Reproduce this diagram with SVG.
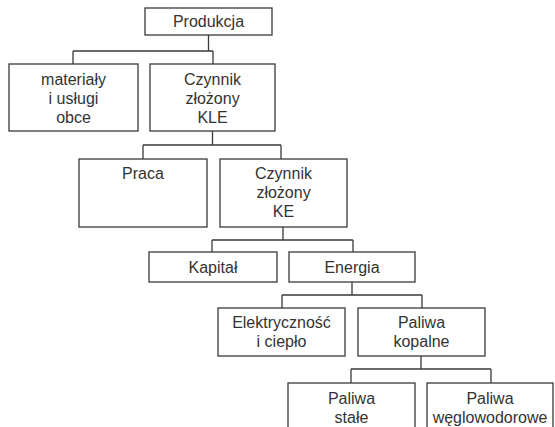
<svg xmlns="http://www.w3.org/2000/svg" width="555" height="427" viewBox="0 0 555 427">
<style>
rect.box{fill:#fff;stroke:#3a3a3a;stroke-width:1.3}
text{font-family:"Liberation Sans",Arial,sans-serif;font-size:16px;fill:#333;text-anchor:middle}
.conn path{fill:none;stroke:#3a3a3a;stroke-width:1.3}
</style>
<rect width="555" height="427" fill="#fff"/>
<g class="conn" id="connectors">
<path d="M208.5,35V51M73,51H213M73,51V64M213,51V64"/>
<path d="M212.5,131V145M143,145H281M143,145V159M281,145V159"/>
<path d="M283,227V240M212,240H353M212,240V252M353,240V252"/>
<path d="M352,282V295M282,295H422M282,295V308M422,295V308"/>
<path d="M421,356V369M351,369H491M351,369V383M491,369V383"/>
</g>
<g id="produkcja"><rect class="box" x="145" y="8" width="127" height="27"/><text x="208.5" y="27">Produkcja</text></g>
<g id="materialy"><rect class="box" x="9" y="64" width="129" height="67"/><text x="73.5" y="85">materiały</text><text x="73.5" y="104">i usługi</text><text x="73.5" y="123">obce</text></g>
<g id="kle"><rect class="box" x="150" y="64" width="125" height="67"/><text x="212.5" y="85">Czynnik</text><text x="212.5" y="104">złożony</text><text x="212.5" y="123">KLE</text></g>
<g id="praca"><rect class="box" x="79" y="159" width="128" height="68"/><text x="143" y="179">Praca</text></g>
<g id="ke"><rect class="box" x="220" y="159" width="127" height="68"/><text x="283.5" y="179">Czynnik</text><text x="283.5" y="198">złożony</text><text x="283.5" y="217">KE</text></g>
<g id="kapital"><rect class="box" x="149" y="252" width="128" height="30"/><text x="213" y="273">Kapitał</text></g>
<g id="energia"><rect class="box" x="289" y="252" width="126" height="30"/><text x="352" y="273">Energia</text></g>
<g id="elektrycznosc"><rect class="box" x="218" y="308" width="127" height="48"/><text x="281.5" y="328">Elektryczność</text><text x="281.5" y="347">i ciepło</text></g>
<g id="kopalne"><rect class="box" x="358" y="308" width="127" height="48"/><text x="421.5" y="328">Paliwa</text><text x="421.5" y="347">kopalne</text></g>
<g id="stale"><rect class="box" x="288" y="383" width="127" height="50"/><text x="351.5" y="404">Paliwa</text><text x="351.5" y="423">stałe</text></g>
<g id="weglowodorowe"><rect class="box" x="427" y="383" width="126" height="50"/><text x="490" y="404">Paliwa</text><text x="490" y="423">węglowodorowe</text></g>
</svg>
